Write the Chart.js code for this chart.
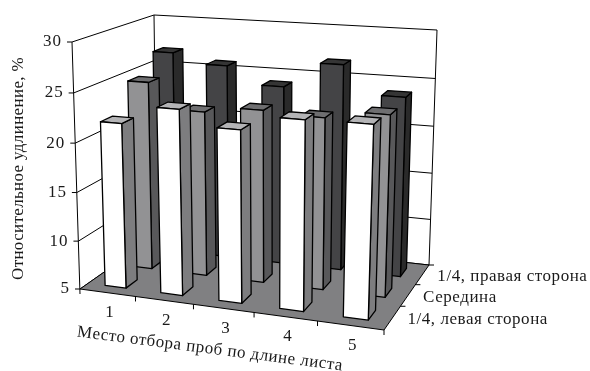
<!DOCTYPE html>
<html>
<head>
<meta charset="utf-8">
<style>
  html, body { margin: 0; padding: 0; background: #fff; }
  #wrap { width: 590px; height: 371px; }
</style>
<script src="https://cdn.jsdelivr.net/npm/chart.js@4/dist/chart.umd.min.js"></script>
</head>
<body>
<div id="wrap"><canvas id="elongationChart" width="590" height="371"></canvas></div>
<script>
const categories = ['1', '2', '3', '4', '5'];
const valueTicks = [5, 10, 15, 20, 25, 30];
const seriesNames = ['1/4, левая сторона', 'Середина', '1/4, правая сторона'];
const leftSide = [21.9, 23.8, 22.3, 23.8, 23.9];
const middle = [24.8, 22.2, 22.85, 22.6, 23.4];
const rightSide = [26.8, 25.8, 24.0, 26.7, 23.8];

const FONT = '"Liberation Serif", serif';

// box colours per row: front, side, top
const rowColors = [
    { front: '#ffffff', side: '#7d7d7f', top: '#b4b4b6' },
    { front: '#929294', side: '#58585a', top: '#6e6e70' },
    { front: '#444446', side: '#2a2a2a', top: '#353535' }
];

// floor and ceiling of the box, corners in order: front-left, front-right, back-right, back-left
const floorQuad = [[80, 289], [384, 330], [429, 265], [157, 235]];
const topQuad = [[72, 42], [393, 64], [437, 30], [154, 15]];

// unit square -> quad, plain projective mapping
function quadMap(q) {
    const [[x0, y0], [x1, y1], [x2, y2], [x3, y3]] = q;
    const dx1 = x1 - x2, dx2 = x3 - x2, sx = x0 - x1 + x2 - x3;
    const dy1 = y1 - y2, dy2 = y3 - y2, sy = y0 - y1 + y2 - y3;
    const den = dx1 * dy2 - dx2 * dy1;
    const g = (sx * dy2 - dx2 * sy) / den;
    const h = (dx1 * sy - sx * dy1) / den;
    const a = x1 - x0 + g * x1, b = x3 - x0 + h * x3;
    const d = y1 - y0 + g * y1, e = y3 - y0 + h * y3;
    return (u, v) => {
        const w = g * u + h * v + 1;
        return [(a * u + b * v + x0) / w, (d * u + e * v + y0) / w];
    };
}
const floorAt = quadMap(floorQuad);
const topAt = quadMap(topQuad);

// u along the categories, v into the depth, h up the value axis (all 0..1)
function project(u, v, h) {
    const f = floorAt(u, v), t = topAt(u, v);
    const k = h / (1 + 0.04 * (1 - h)); // heights shrink a little towards the floor
    return [f[0] + (t[0] - f[0]) * k, f[1] + (t[1] - f[1]) * k];
}

function poly(ctx, pts, fill) {
    ctx.beginPath();
    pts.forEach((p, i) => i ? ctx.lineTo(p[0], p[1]) : ctx.moveTo(p[0], p[1]));
    ctx.closePath();
    if (fill) {
        ctx.fillStyle = fill;
        ctx.fill();
    }
    ctx.stroke();
}

function line(ctx, a, b) {
    ctx.beginPath();
    ctx.moveTo(a[0], a[1]);
    ctx.lineTo(b[0], b[1]);
    ctx.stroke();
}

function label(ctx, text, x, y, align, spacing) {
    ctx.letterSpacing = (spacing || 0) + 'px';
    ctx.textAlign = align;
    ctx.fillText(text, x, y);
}

const box3d = {
    id: 'box3d',
    beforeDatasetsDraw(chart) {
        const ctx = chart.ctx;
        const area = chart.chartArea;
        const yScale = chart.scales.y;
        const hOf = val => (area.bottom - yScale.getPixelForValue(val)) / area.height;

        ctx.save();
        ctx.strokeStyle = '#000';
        ctx.lineWidth = 1;
        ctx.lineJoin = 'round';

        // walls and grid
        valueTicks.forEach(val => {
            const h = hOf(val);
            const a = project(0, 0, h), b = project(0, 1, h), c = project(1, 1, h);
            line(ctx, a, b);
            line(ctx, b, c);
            line(ctx, a, [a[0] - 5, a[1]]);
        });
        line(ctx, project(0, 0, 1), [project(0, 0, 0)[0], project(0, 0, 0)[1] + 5]);
        line(ctx, project(0, 1, 1), project(0, 1, 0));
        line(ctx, project(1, 1, 1), project(1, 1, 0));

        // floor
        poly(ctx, [project(0, 0, 0), project(1, 0, 0), project(1, 1, 0), project(0, 1, 0)], '#808082');

        // ticks under the floor
        categories.forEach((c, i) => {
            const p = project((i + 1) / categories.length, 0, 0);
            line(ctx, p, [p[0], p[1] + 5]);
        });
        seriesNames.forEach((s, i) => {
            const p = project(1, (i + 1) / seriesNames.length, 0);
            line(ctx, p, [p[0] + 5, p[1]]);
        });

        // bars, back row first
        ctx.lineWidth = 1.3;
        for (let r = seriesNames.length - 1; r >= 0; r--) {
            const v0 = (r + 0.29) / seriesNames.length;
            const v1 = (r + 0.71) / seriesNames.length;
            const col = rowColors[r];
            chart.getDatasetMeta(r).data.forEach(el => {
                const u0 = (el.x - el.width / 2 - area.left) / area.width;
                const u1 = (el.x + el.width / 2 - area.left) / area.width;
                const h = (area.bottom - el.y) / area.height;
                const h0 = (area.bottom - el.base) / area.height;
                poly(ctx, [project(u1, v0, h0), project(u1, v1, h0), project(u1, v1, h), project(u1, v0, h)], col.side);
                poly(ctx, [project(u0, v0, h), project(u1, v0, h), project(u1, v1, h), project(u0, v1, h)], col.top);
                poly(ctx, [project(u0, v0, h0), project(u1, v0, h0), project(u1, v0, h), project(u0, v0, h)], col.front);
            });
        }

        // texts
        ctx.fillStyle = '#1a1a1a';
        ctx.font = '17px ' + FONT;
        ctx.textBaseline = 'middle';
        valueTicks.forEach(val => {
            const a = project(0, 0, hOf(val));
            label(ctx, String(val), a[0] - 10, a[1], 'right', 1);
        });
        categories.forEach((c, i) => {
            const p = project((i + 0.5) / categories.length, 0, 0);
            label(ctx, c, p[0] + 2, p[1] + 20, 'center');
        });
        seriesNames.forEach((s, i) => {
            const p = project(1, (i + 0.5) / seriesNames.length, 0);
            label(ctx, s, p[0] + 15, p[1] + 2, 'left', 0.55);
        });

        ctx.save();
        ctx.translate(18.5, 168.5);
        ctx.rotate(-Math.PI / 2);
        label(ctx, 'Относительное удлинение, %', 0, 0, 'center', 0.35);
        ctx.restore();

        ctx.save();
        ctx.translate(210, 349);
        ctx.rotate(7.3 * Math.PI / 180);
        label(ctx, 'Место отбора проб по длине листа', 0, 0, 'center', 0.5);
        ctx.restore();

        ctx.restore();
        return false; // the boxes replace the flat bars
    }
};

const baseValue = valueTicks[0];

new Chart(document.getElementById('elongationChart').getContext('2d'), {
    type: 'bar',
    data: {
        labels: categories,
        datasets: [
            { label: seriesNames[0], data: leftSide, base: baseValue, backgroundColor: rowColors[0].front },
            { label: seriesNames[1], data: middle, base: baseValue, backgroundColor: rowColors[1].front },
            { label: seriesNames[2], data: rightSide, base: baseValue, backgroundColor: rowColors[2].front }
        ]
    },
    options: {
        responsive: false,
        animation: false,
        grouped: false,
        categoryPercentage: 1,
        barPercentage: 0.38,
        layout: { padding: 0 },
        plugins: { legend: { display: false }, tooltip: { enabled: false } },
        scales: {
            x: { display: false },
            y: { display: false, min: valueTicks[0], max: valueTicks[valueTicks.length - 1] }
        }
    },
    plugins: [box3d]
});
</script>
</body>
</html>
